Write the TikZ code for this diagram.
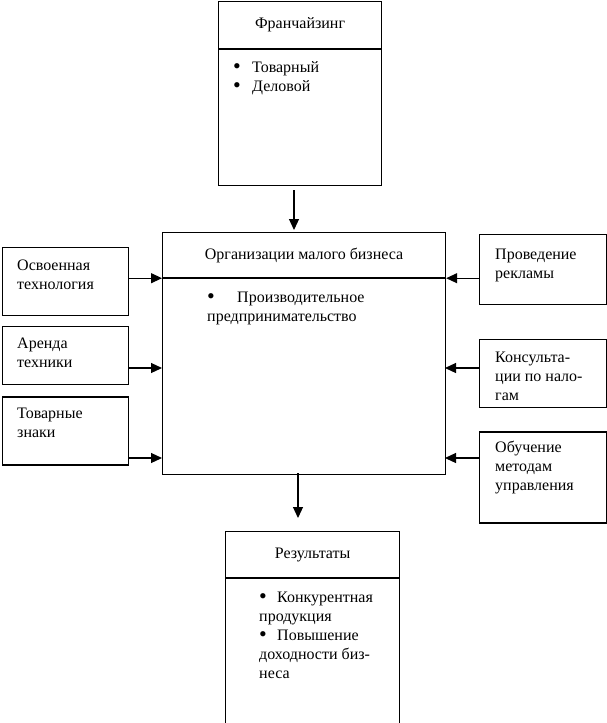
\documentclass[tikz,border=0pt]{standalone}
\usepackage{fontspec}
\setmainfont{Liberation Serif}
\usetikzlibrary{positioning,arrows.meta}

\tikzset{
  block/.style={draw, line width=1.2pt, inner sep=0pt, anchor=north west},
  head/.style={block, align=center},
  txt/.style={inner sep=0pt, anchor=base west, align=left},
  arr/.style={-{Triangle[length=11pt,width=10pt]}, line width=1.2pt},
}
\newcommand{\bul}[1]{\makebox[#1][l]{\smash{\raisebox{-1.5pt}{\fontsize{22}{19}\selectfont\textbullet}}}}

\begin{document}
\begin{tikzpicture}
  [x=1pt, y=-1pt, font=\fontsize{16}{19}\selectfont]
  \useasboundingbox (0,0) rectangle (607,723);

	% franchising (text nodes sit on the baseline of their last line)
	\node [head, minimum width=163, minimum height=47] (frhead) at (218,1) {Франчайзинг};
	\node [block, minimum width=163, minimum height=136] (frbody) at (frhead.south west) {};
	\node [txt] (frlist) at (233,91) {\bul{19pt}Товарный\\\bul{19pt}Деловой};

	% small business
	\node [head, minimum width=283, minimum height=45] (mhead) at (162,232) {Организации малого бизнеса};
	\node [block, minimum width=283, minimum height=196] (mbody) at (mhead.south west) {};
	\node [txt] (mlist) at (207,321) {\bul{30pt}Производительное\\предпринимательство};

	% left side
	\node [block, minimum width=126, minimum height=68] (osvoen) at (2,247) {};
	\node [block, minimum width=126, minimum height=58] (arenda) at ([yshift=-10pt]osvoen.south west) {};
	\node [block, minimum width=126, minimum height=68] (znaki) at ([yshift=-11pt]arenda.south west) {};
	\node [txt] (osvoentext) at (17,289) {Освоенная\\технология};
	\node [txt] (arendatext) at (17,367) {Аренда\\техники};
	\node [txt] (znakitext) at (17,437) {Товарные\\знаки};

	% right side
	\node [block, minimum width=127, minimum height=70] (reklama) at (479,234) {};
	\node [block, minimum width=127, minimum height=68] (nalogi) at ([yshift=-34pt]reklama.south west) {};
	\node [block, minimum width=127, minimum height=91] (obuch) at ([yshift=-23pt]nalogi.south west) {};
	\node [txt] (reklamatext) at (495,278) {Проведение\\рекламы};
	\node [txt] (nalogitext) at (495,400) {Консульта-\\ции по нало-\\гам};
	\node [txt] (obuchtext) at (495,490) {Обучение\\методам\\управления};

	% results
	\node [head, minimum width=174, minimum height=46] (rhead) at (225,531) {Результаты};
	\node [block, minimum width=174, minimum height=145] (rbody) at (rhead.south west) {};
	\node [txt] (rlist) at (259,678) {\bul{18pt}Конкурентная\\продукция\\\bul{18pt}Повышение\\доходности биз-\\неса};

	% arrow ends on the main box
	\coordinate (topin) at (294,232);
	\coordinate (botout) at (298,473);
	\coordinate (w1) at (mhead.south west);
	\coordinate (w2) at (162,368);
	\coordinate (w3) at (162,458);
	\coordinate (e1) at (mhead.south east);
	\coordinate (e2) at (445,368);
	\coordinate (e3) at (445,458);

	\draw [arr, shorten <=4pt, shorten >=2pt] (frbody.south -| topin) -- (topin);
	\draw [arr, shorten >=13pt] (botout) -- (rhead.north -| botout);
	\path [arr]
		(osvoen.east |- w1) edge (w1)
		(arenda.east |- w2) edge (w2)
		(znaki.east |- w3) edge (w3)
		(reklama.west |- e1) edge (e1)
		(nalogi.west |- e2) edge (e2)
		(obuch.west |- e3) edge (e3);
\end{tikzpicture}
\end{document}
